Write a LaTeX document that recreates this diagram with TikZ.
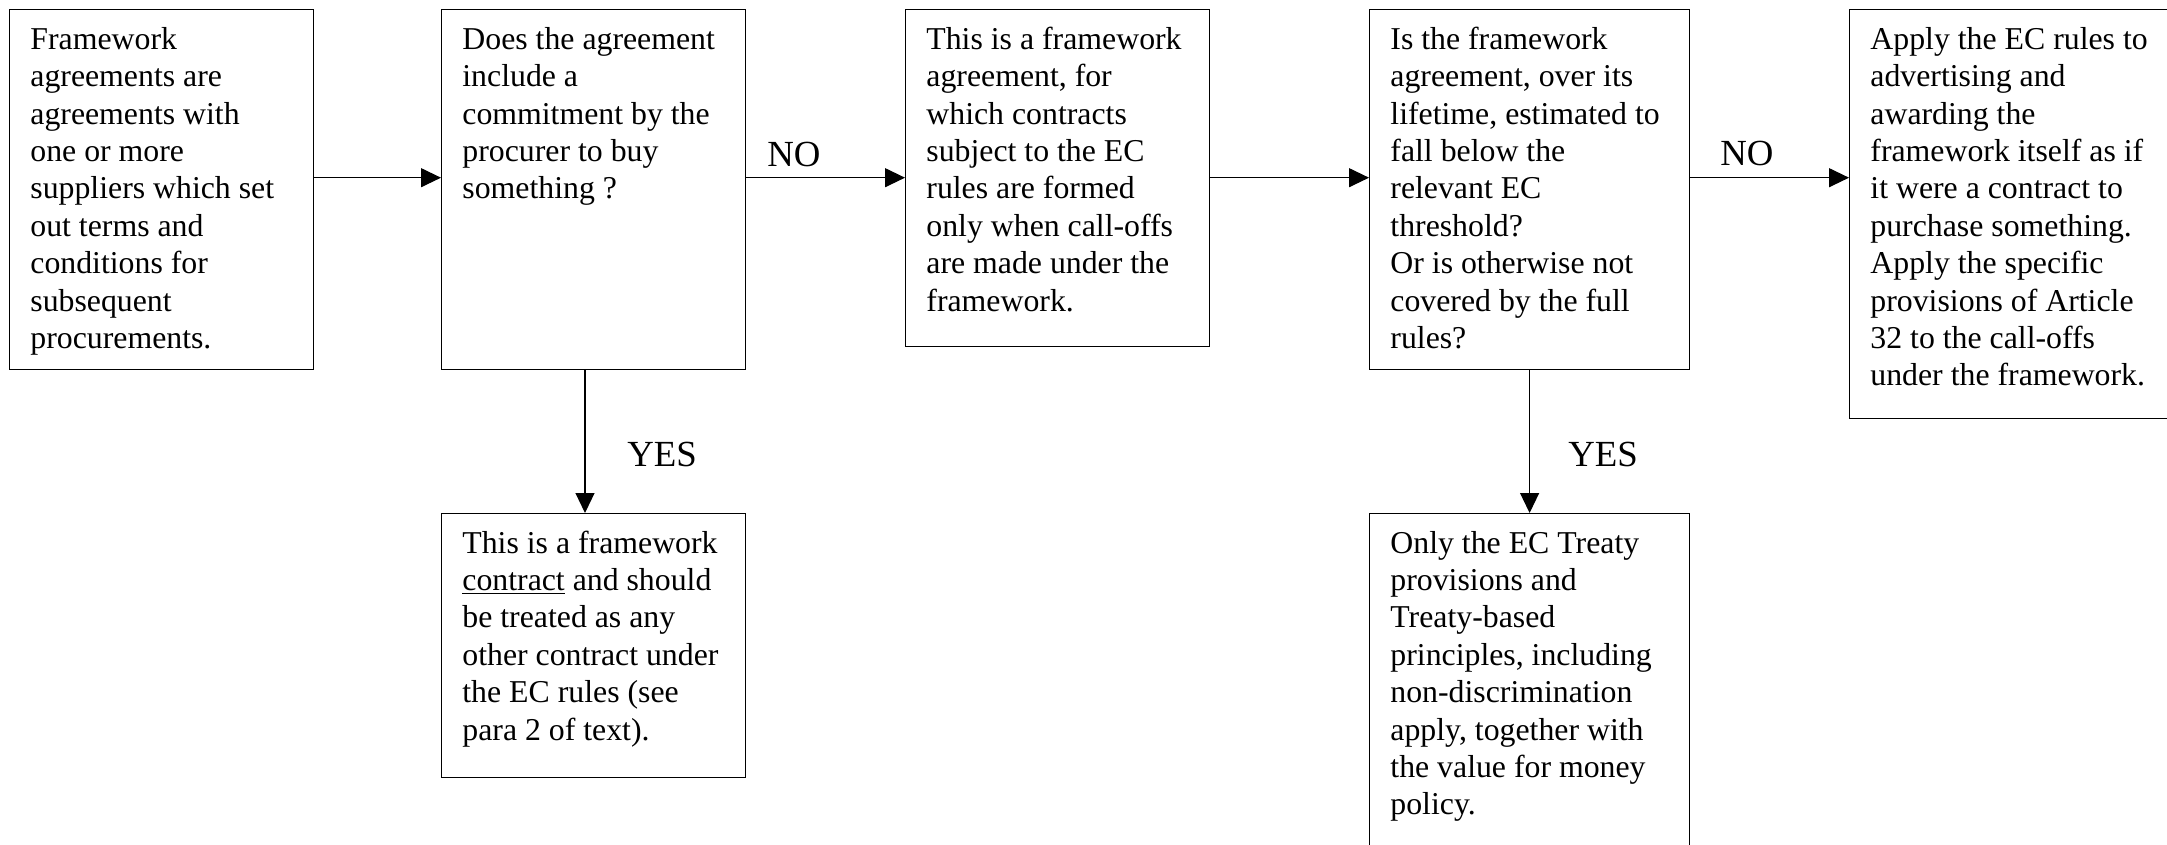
\documentclass[tikz,border=0pt]{standalone}
\usepackage{fontspec}
\setmainfont{Liberation Serif}
\usetikzlibrary{arrows.meta}
\newcommand{\bxt}[1]{\parbox[t]{170pt}{#1}}
\begin{document}
\begin{tikzpicture}[x=0.5pt,y=-0.5pt,
  box/.style={draw, line width=0.6pt, inner sep=0pt, anchor=north west},
  txt/.style={anchor=base west, inner sep=0pt, font=\fontsize{15.9}{18.7}\selectfont},
  lbl/.style={anchor=base west, inner sep=0pt, font=\fontsize{18.4}{22}\selectfont},
  arr/.style={line width=0.6pt, -{Triangle[length=10pt,width=9.5pt]}}]
\fill[white] (0,0) rectangle (2167,845);
\useasboundingbox (0,0) rectangle (2167,845);
\clip (0,0) rectangle (2167,845);

% boxes
\node[box, minimum width=152pt, minimum height=179.85pt] (b1) at (9,9.3) {};
\node[box, minimum width=152pt, minimum height=179.85pt] (b2) at (441,9.3) {};
\node[box, minimum width=152pt, minimum height=168.2pt] (b3) at (905,9.3) {};
\node[box, minimum width=160pt, minimum height=179.85pt] (b4) at (1369,9.3) {};
\node[box, minimum width=163pt, minimum height=204.2pt] (b5) at (1849,9.3) {};
\node[box, minimum width=152pt, minimum height=132pt] (b6) at (441,513) {};
\node[box, minimum width=160pt, minimum height=173.5pt] (b7) at (1369,513) {};

% texts
\node[txt] (t1) at (30,49.3) {\bxt{Framework\\agreements are\\agreements with\\one or more\\suppliers which set\\out terms and\\conditions for\\subsequent\\procurements.}};
\node[txt] (t2) at (462,49.3) {\bxt{Does the agreement\\include a\\commitment by the\\procurer to buy\\something ?}};
\node[txt] (t3) at (926,49.3) {\bxt{This is a framework\\agreement, for\\which contracts\\subject to the EC\\rules are formed\\only when call-offs\\are made under the\\framework.}};
\node[txt] (t4) at (1390,49.3) {\bxt{Is the framework\\agreement, over its\\lifetime, estimated to\\fall below the\\relevant EC\\threshold?\\Or is otherwise not\\covered by the full\\rules?}};
\node[txt] (t5) at (1870,49.3) {\bxt{Apply the EC rules to\\advertising and\\awarding the\\framework itself as if\\it were a contract to\\purchase something.\\Apply the specific\\provisions of Article\\32 to the call-offs\\under the framework.}};
\node[txt] (t6) at (462,553) {\bxt{This is a framework\\\underline{contract} and should\\be treated as any\\other contract under\\the EC rules (see\\para 2 of text).}};
\node[txt] (t7) at (1390,553) {\bxt{Only the EC Treaty\\provisions and\\Treaty-based\\principles, including\\non-discrimination\\apply, together with\\the value for money\\policy.}};

% connectors
\coordinate (row) at (0,177.7);
\coordinate (c2) at (585,0);
\draw[arr] (b1.east |- row) -- (b2.west |- row);
\draw[arr] (b2.east |- row) -- (b3.west |- row);
\draw[arr] (b3.east |- row) -- (b4.west |- row);
\draw[arr] (b4.east |- row) -- (b5.west |- row);
\draw[arr] (b2.south -| c2) -- (b6.north -| c2);
\draw[arr] (b4.south) -- (b7.north);

% labels
\node[lbl] (no1) at (767,167) {NO};
\node[lbl] (no2) at (1720,166) {NO};
\node[lbl] (yes1) at (627,466) {YES};
\node[lbl] (yes2) at (1568,466) {YES};
\end{tikzpicture}
\end{document}
